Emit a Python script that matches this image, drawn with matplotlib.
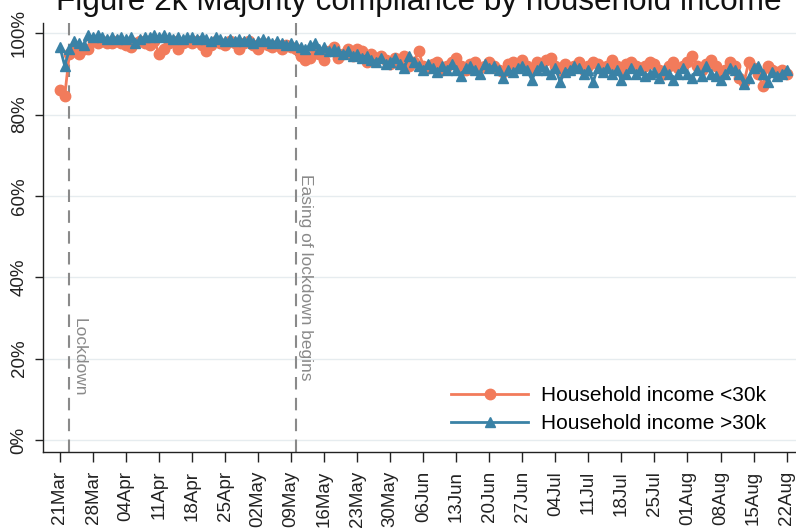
import matplotlib
matplotlib.use("Agg")
import matplotlib.pyplot as plt
import numpy as np
import pandas as pd

plt.rcParams.update({
    "font.family": ["Liberation Sans", "DejaVu Sans"],
    "axes.spines.right": False,
    "axes.spines.top": False,
})

ORANGE = "#F27B5B"
BLUE = "#3A82A6"
GRID = "#E6ECEF"
VLINE = "#8A8A8A"

dates = pd.date_range("2020-03-21", "2020-08-22", freq="D")

low_mar = [86, 84.5, 95, 95.5, 95, 96, 96, 98, 97.5, 98, 97.5]
low_apr = [97.5, 98, 97.5, 97, 96.5, 97.5, 98, 97.5, 97, 98, 95, 96, 97.5, 98, 96,
           97.5, 98, 97.5, 98, 97, 95.5, 97, 98, 97.5, 97, 98, 97.5, 96, 97.5, 98]
low_may = [97, 96, 97.5, 97, 96.5, 97, 96, 97, 96.5, 96, 94.5, 93.5, 94, 96, 95, 93.5,
           95.5, 96.5, 94, 95, 96, 94.5, 96, 95.5, 93, 95, 94, 94.5, 93.5, 92.5, 94]
low_jun = [93, 94.5, 92, 93, 95.5, 92, 91.5, 92.5, 93, 91, 92, 93, 94, 92, 91, 92.5,
           93, 91.5, 92, 93, 92, 91, 90.5, 92.5, 93, 92, 93.5, 92, 91, 93]
low_jul = [92.5, 93.5, 94, 92, 91, 92.5, 91.5, 92, 93, 91, 92, 93, 92.5, 91, 92, 93.5,
           92, 91, 92.5, 93, 92, 91.5, 92, 93, 92.5, 91, 90, 92, 93, 91.5, 92]
low_aug = [93, 94.5, 92, 91, 92.5, 93.5, 92, 90.5, 91, 93, 92, 89, 88, 93, 91.5, 90,
           87, 92, 91, 90.5, 91, 90]

high_mar = [96.5, 92, 96, 98, 97.5, 97, 99.5, 99, 99.5, 99, 98.5]
high_apr = [99, 98.5, 99, 98.5, 99, 97.5, 98.5, 99, 99, 99.5, 99, 99.5, 99, 98.5, 99,
            98.5, 99, 99, 98.5, 99, 98.5, 98, 99, 98.5, 98, 98.5, 98, 98.5, 98, 98.5]
high_may = [97.5, 98, 98.5, 98, 97.5, 98, 97.5, 97, 97.5, 97, 96.5, 96, 97, 97.5, 96,
            96.5, 95.5, 96, 95.5, 95, 95.5, 94.5, 95, 94, 94.5, 93.5, 93, 94, 92.5, 93, 94]
high_jun = [92.5, 91.5, 94.5, 93, 92, 91, 92.5, 91.5, 90.5, 92, 91, 92.5, 91, 89.5,
            91.5, 92, 91, 90, 92.5, 91.5, 92, 91, 89, 91, 90.5, 91.5, 92, 91, 88.5, 91]
high_jul = [92, 91, 90, 91.5, 88, 90.5, 91, 92, 91.5, 90, 91, 88, 91.5, 90.5, 91.5, 90,
            91, 88.5, 90, 91.5, 90, 91, 89.5, 90, 90.5, 89, 91, 90, 88.5, 90, 91.5]
high_aug = [90, 89, 91, 89.5, 92, 90, 89.5, 88.5, 90, 91.5, 91, 90, 87.5, 89, 91.5, 92,
            90, 88, 90.5, 89.5, 90, 91]

low_income = low_mar + low_apr + low_may + low_jun + low_jul + low_aug
high_income = high_mar + high_apr + high_may + high_jun + high_jul + high_aug

events = [("2020-03-23", "Lockdown"), ("2020-05-10", "Easing of lockdown begins")]
event_text_top = [30, 65.5]

fig = plt.figure(figsize=(7.96, 5.30), dpi=100)
ax = fig.add_axes([43 / 796, 78 / 530, 753 / 796, 429 / 530])

ax.plot(dates, low_income, color=ORANGE, marker="o", markersize=7.5, linewidth=2,
        label="Household income <30k", zorder=3)
ax.plot(dates, high_income, color=BLUE, marker="^", markersize=7.5, linewidth=2,
        label="Household income >30k", zorder=4)

for (d, txt), ty in zip(events, event_text_top):
    dt = pd.Timestamp(d)
    ax.axvline(dt, color=VLINE, linestyle=(0, (6, 4)), linewidth=1.5, zorder=2)
    ax.text(dt + pd.Timedelta(days=0.5), ty, txt, rotation=-90, ha="left", va="top",
            fontsize=12.5, color=VLINE, zorder=2)

ax.set_ylim(-2.95, 102.5)
ax.set_yticks(np.arange(0, 101, 20))
ax.set_yticklabels([f"{v}%" for v in range(0, 101, 20)], rotation=90, va="center",
                   fontsize=13.5)
ax.grid(axis="y", color=GRID, linewidth=1)
ax.set_axisbelow(True)

ax.set_xlim(pd.Timestamp("2020-03-21") - pd.Timedelta(days=3.6),
            pd.Timestamp("2020-03-21") + pd.Timedelta(days=156))
ticks = pd.date_range("2020-03-21", "2020-08-22", freq="7D")
ax.set_xticks(ticks)
ax.set_xticklabels([t.strftime("%d%b") for t in ticks], rotation=90, fontsize=13.5)
ax.tick_params(axis="both", direction="out", width=1, colors="#222222")
ax.tick_params(axis="y", length=6, pad=5)
ax.tick_params(axis="x", length=7.5, pad=6)
for s in ["left", "bottom"]:
    ax.spines[s].set_color("#222222")
    ax.spines[s].set_linewidth(1)

ax.legend(loc="lower right", frameon=False, fontsize=15, handlelength=3.7,
          labelspacing=0.45, handletextpad=0.6, bbox_to_anchor=(0.985, 0.0))

fig.text(419 / 796, 1 - 10 / 530, "Figure 2k Majority compliance by household income",
         ha="center", va="baseline", fontsize=22.7, color="#111111")

fig.savefig("out.png", dpi=100, facecolor="white")
